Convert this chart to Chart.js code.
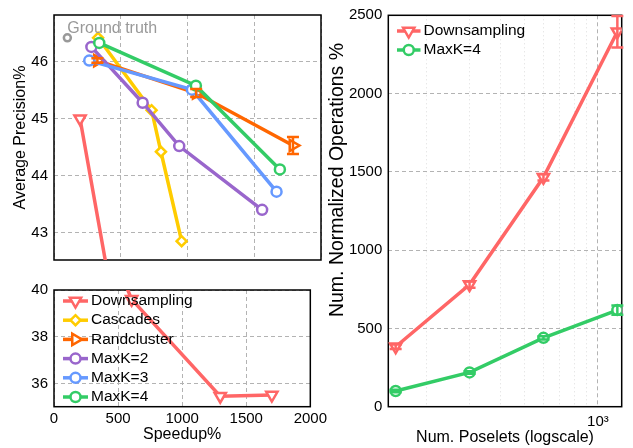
<!DOCTYPE html>
<html>
<head>
<meta charset="utf-8">
<script src="https://cdn.jsdelivr.net/npm/chart.js@4.4.0/dist/chart.umd.min.js"></script>
<style>
	body { margin: 0; width: 633px; height: 448px; background: #fff; position: relative; overflow: hidden; }
	canvas { position: absolute; }
</style>
</head>
<body>
<canvas id="apTop" width="330" height="275" style="left:0;top:0"></canvas>
<canvas id="apBottom" width="330" height="173" style="left:0;top:275px"></canvas>
<canvas id="ops" width="313" height="448" style="left:320px;top:0"></canvas>
<script>
// ---- data ----
const speedDown = [195, 606, 1297, 1700];
const apDown = [45.0, 39.6, 35.45, 35.5];
const speedCascades = [330, 731, 801, 956];
const apCascades = [46.42, 45.15, 44.42, 42.85];
const speedRand = [325, 1065, 1790];
const apRand = [46.02, 45.45, 44.53];
const errRand = [0.04, 0.07, 0.15];
const speedK2 = [280, 664, 938, 1559];
const apK2 = [46.26, 45.28, 44.52, 43.4];
const speedK3 = [264, 1033, 1667];
const apK3 = [46.02, 45.51, 43.72];
const speedK4 = [339, 1063, 1692];
const apK4 = [46.33, 45.58, 44.11];
const speedTruth = [100];
const apTruth = [46.42];

const speedTicks = [0, 500, 1000, 1500, 2000];
const apTicksTop = [43, 44, 45, 46];
const apTicksBottom = [36, 38, 40];

const poselets = [150, 300, 600, 1200];
const opsDown = [383, 780, 1465, 2395];
const errOpsDown = [15, 20, 20, 100];
const opsK4 = [100, 219, 440, 617];
const errOpsK4 = [8, 8, 10, 30];
const poseletTicks = [200, 300, 400, 500, 600, 700, 800, 900, 1000];
const opsTicks = [0, 500, 1000, 1500, 2000, 2500];

const FONT = '"Liberation Sans", Arial, Helvetica, sans-serif';
Chart.defaults.font.family = FONT;
Chart.defaults.font.size = 15;
Chart.defaults.color = "#000";
Chart.defaults.animation = false;

function series(label, xs, ys, color, style, rotation, extra) {
	return Object.assign(
		{
			label: label,
			data: xs.map((x, i) => ({ x: x, y: ys[i] })),
			borderColor: color,
			backgroundColor: "#fff",
			borderWidth: 3.5,
			pointStyle: style,
			pointRotation: rotation,
			pointRadius: 5,
			pointHoverRadius: 5,
			pointBorderWidth: 2.5,
			pointBackgroundColor: "#fff",
			pointBorderColor: color,
		},
		extra
	);
}

function apDatasets() {
	return [
		series("Downsampling", speedDown, apDown, "#ff6666", "triangle", 180, { order: 6, clip: 0, pointRadius: 6.5 }),
		series("Cascades", speedCascades, apCascades, "#ffcc00", "rectRot", 0, { order: 5 }),
		series("Randcluster", speedRand, apRand, "#ff6600", "triangle", 90, { order: 4, pointRadius: 6.5, errors: errRand }),
		series("MaxK=2", speedK2, apK2, "#9966cc", "circle", 0, { order: 3 }),
		series("MaxK=3", speedK3, apK3, "#6699ff", "circle", 0, { order: 2 }),
		series("MaxK=4", speedK4, apK4, "#33cc66", "circle", 0, { order: 1 }),
		series("Ground truth", speedTruth, apTruth, "#999999", "circle", 0, {
			order: 0, showLine: false, pointRadius: 3.5, inLegend: false, note: "Ground truth",
		}),
	];
}

// box around the plot area
const frame = {
	id: "frame",
	beforeDatasetsDraw(chart) {
		const { ctx, chartArea: a } = chart;
		ctx.save();
		ctx.strokeStyle = "#000";
		ctx.lineWidth = 1.5;
		ctx.strokeRect(a.left, a.top, a.right - a.left, a.bottom - a.top);
		ctx.restore();
	},
};

// vertical error bars with caps
const errorBars = {
	id: "errorBars",
	afterDatasetsDraw(chart) {
		const { ctx, chartArea: a } = chart;
		const ys = chart.scales.y;
		ctx.save();
		ctx.beginPath();
		ctx.rect(a.left - 8, a.top - 1, a.right - a.left + 16, a.bottom - a.top + 2);
		ctx.clip();
		chart.data.datasets.forEach((ds, i) => {
			if (!ds.errors) return;
			const meta = chart.getDatasetMeta(i);
			ctx.strokeStyle = ds.borderColor;
			ctx.lineWidth = 2.5;
			meta.data.forEach((pt, j) => {
				const v = ds.data[j].y;
				const e = ds.errors[j];
				const top = ys.getPixelForValue(v + e);
				const bot = ys.getPixelForValue(v - e);
				ctx.beginPath();
				ctx.moveTo(pt.x, top);
				ctx.lineTo(pt.x, bot);
				ctx.moveTo(pt.x - 6, top);
				ctx.lineTo(pt.x + 6, top);
				ctx.moveTo(pt.x - 6, bot);
				ctx.lineTo(pt.x + 6, bot);
				ctx.stroke();
			});
		});
		ctx.restore();
	},
};

// text notes next to points (Ground truth)
const notes = {
	id: "notes",
	afterDatasetsDraw(chart) {
		const ctx = chart.ctx;
		chart.data.datasets.forEach((ds, i) => {
			if (!ds.note) return;
			const pt = chart.getDatasetMeta(i).data[0];
			ctx.save();
			ctx.font = "16px " + FONT;
			ctx.fillStyle = ds.borderColor;
			ctx.textBaseline = "alphabetic";
			ctx.fillText(ds.note, pt.x, pt.y - 4.5);
			ctx.restore();
		});
	},
};

function drawMarker(ctx, ds, x, y) {
	const o = { pointStyle: ds.pointStyle, rotation: ds.pointRotation || 0, radius: ds.pointRadius, borderWidth: ds.pointBorderWidth };
	if (Chart.helpers && Chart.helpers.drawPoint) {
		Chart.helpers.drawPoint(ctx, o, x, y);
	} else {
		ctx.beginPath();
		ctx.arc(x, y, o.radius, 0, Math.PI * 2);
		ctx.fill();
		ctx.stroke();
	}
}

// matlab-like legend: line with a marker in the middle
const lineLegend = {
	id: "lineLegend",
	afterDraw(chart, args, opts) {
		if (!opts || opts.x === undefined) return;
		const ctx = chart.ctx;
		let y = opts.y;
		ctx.save();
		ctx.font = "15.5px " + FONT;
		ctx.textBaseline = "middle";
		chart.data.datasets.forEach((ds) => {
			if (ds.inLegend === false) return;
			ctx.strokeStyle = ds.borderColor;
			ctx.lineWidth = ds.borderWidth;
			ctx.beginPath();
			ctx.moveTo(opts.x, y);
			ctx.lineTo(opts.x + opts.len, y);
			ctx.stroke();
			ctx.fillStyle = "#fff";
			ctx.lineWidth = ds.pointBorderWidth;
			drawMarker(ctx, ds, opts.x + opts.len / 2, y);
			ctx.fillStyle = "#000";
			ctx.fillText(ds.label, opts.x + opts.len + 3, y);
			y += opts.step;
		});
		ctx.restore();
	},
};

// free-positioned rotated axis label
const sideTitle = {
	id: "sideTitle",
	afterDraw(chart, args, opts) {
		if (!opts || !opts.text) return;
		const ctx = chart.ctx;
		ctx.save();
		ctx.translate(opts.x, opts.y);
		ctx.rotate(-Math.PI / 2);
		ctx.font = opts.size + "px " + FONT;
		ctx.fillStyle = "#000";
		ctx.textAlign = "center";
		ctx.textBaseline = "middle";
		ctx.fillText(opts.text, 0, 0);
		ctx.restore();
	},
};

function fixedTicks(values) {
	return (scale) => {
		scale.ticks = values.map((v) => ({ value: v }));
	};
}

const plain = (v) => String(v);
const dashGrid = { color: "#b3b3b3", lineWidth: 1, drawTicks: false };
const dash = { display: false, dash: [4, 3] };

// ---- top-left: Average Precision vs Speedup ----
new Chart(document.getElementById("apTop"), {
	type: "line",
	data: { datasets: apDatasets() },
	options: {
		responsive: false,
		layout: { padding: { top: 14, right: 9, left: 0, bottom: 0 } },
		plugins: { legend: { display: false }, tooltip: { enabled: false } },
		scales: {
			x: {
				type: "linear", min: 0, max: 2000,
				afterBuildTicks: fixedTicks(speedTicks),
				afterFit: (s) => { s.height = 7; },
				ticks: { display: false },
				grid: dashGrid, border: dash,
			},
			y: {
				min: 42.52, max: 46.82,
				afterBuildTicks: fixedTicks(apTicksTop),
				afterFit: (s) => { s.width = 54; },
				ticks: { padding: 6, callback: plain },
				grid: dashGrid, border: dash,
				title: { display: true, text: "Average Precision%", font: { size: 16 }, padding: { top: 11, bottom: 0 } },
			},
		},
	},
	plugins: [frame, errorBars, notes],
});

// ---- bottom-left: continuation of the y axis ----
new Chart(document.getElementById("apBottom"), {
	type: "line",
	data: { datasets: apDatasets() },
	options: {
		responsive: false,
		layout: { padding: { top: 14.3, right: 9, left: 0, bottom: 0 } },
		plugins: {
			legend: { display: false }, tooltip: { enabled: false },
			lineLegend: { x: 63, y: 26, len: 25, step: 19.2 },
		},
		scales: {
			x: {
				type: "linear", min: 0, max: 2000,
				afterBuildTicks: fixedTicks(speedTicks),
				afterFit: (s) => { s.height = 41.3; },
				ticks: { padding: 3, maxRotation: 0, autoSkip: false, callback: plain },
				grid: dashGrid, border: dash,
				title: { display: true, text: "Speedup%", font: { size: 16 }, padding: { top: 0, bottom: 4 } },
			},
			y: {
				min: 35, max: 40,
				afterBuildTicks: fixedTicks(apTicksBottom),
				afterFit: (s) => { s.width = 54; },
				ticks: { padding: 6, callback: plain },
				grid: dashGrid, border: dash,
			},
		},
	},
	plugins: [frame, errorBars, lineLegend],
});

// ---- right: normalized operations vs number of poselets ----
new Chart(document.getElementById("ops"), {
	type: "line",
	data: {
		datasets: [
			series("Downsampling", poselets, opsDown, "#ff6666", "triangle", 180, { pointRadius: 6.5, errors: errOpsDown, order: 2 }),
			series("MaxK=4", poselets, opsK4, "#33cc66", "circle", 0, { errors: errOpsK4, order: 1 }),
		],
	},
	options: {
		responsive: false,
		layout: { padding: { top: 15.3, right: 11.3, left: 0, bottom: 0 } },
		plugins: {
			legend: { display: false }, tooltip: { enabled: false },
			lineLegend: { x: 77, y: 31, len: 23.5, step: 19 },
			sideTitle: { text: "Num. Normalized Operations %", x: 18, y: 180, size: 19.5 },
		},
		scales: {
			x: {
				type: "logarithmic", min: 140, max: 1250,
				afterBuildTicks: fixedTicks(poseletTicks),
				afterFit: (s) => { s.height = 41.3; },
				ticks: {
					padding: 6, maxRotation: 0, autoSkip: false,
					callback: (v) => (v === 1000 ? "10³" : ""),
				},
				grid: {
					drawTicks: false, lineWidth: 1,
					color: (c) => (c.tick && c.tick.value === 1000 ? "#b3b3b3" : "#dddddd"),
				},
				border: { display: false, dash: (c) => (c.tick && c.tick.value === 1000 ? [4, 3] : [1, 3]) },
				title: { display: true, text: "Num. Poselets (logscale)", font: { size: 16 }, padding: { top: 0, bottom: 1 } },
			},
			y: {
				min: 0, max: 2500,
				afterBuildTicks: fixedTicks(opsTicks),
				afterFit: (s) => { s.width = 68.3; },
				ticks: { padding: 6, callback: plain },
				grid: dashGrid, border: dash,
			},
		},
	},
	plugins: [frame, errorBars, lineLegend, sideTitle],
});
</script>
</body>
</html>
